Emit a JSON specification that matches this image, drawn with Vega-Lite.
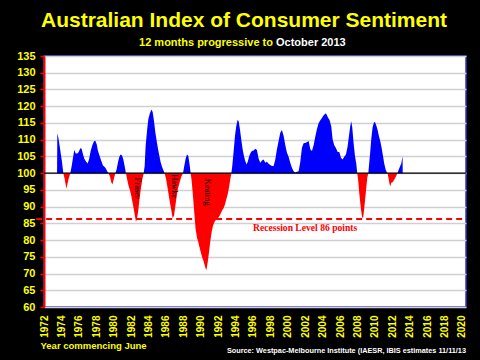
{
  "$schema": "https://vega.github.io/schema/vega-lite/v6.json",
  "width": 422,
  "height": 251,
  "autosize": {"type": "none"},
  "padding": {"left": 44, "top": 56, "right": 14, "bottom": 53},
  "background": "black",
  "title": {
    "text": "Australian Index of Consumer Sentiment",
    "color": "#ffff00",
    "fontSize": 21,
    "font": "Liberation Sans",
    "fontWeight": "bold",
    "anchor": "middle",
    "dx": -11,
    "offset": 6
  },
  "config": {
    "view": {"fill": "white", "stroke": "#3333cc", "strokeWidth": 1.5},
    "font": "Liberation Sans"
  },
  "datasets": {
    "sentiment": [
      {"year": 1973.50, "value": 100}, {"year": 1973.53, "value": 111.9}, {"year": 1973.65, "value": 110.6},
      {"year": 1973.80, "value": 108.1}, {"year": 1973.91, "value": 106.1}, {"year": 1974.07, "value": 103.3},
      {"year": 1974.22, "value": 100}, {"year": 1974.37, "value": 98.3}, {"year": 1974.49, "value": 96.6},
      {"year": 1974.56, "value": 95.3}, {"year": 1974.68, "value": 96.6}, {"year": 1974.83, "value": 98.3},
      {"year": 1975.02, "value": 100}, {"year": 1975.18, "value": 102.1}, {"year": 1975.33, "value": 104.6},
      {"year": 1975.48, "value": 106.9}, {"year": 1975.64, "value": 105.9}, {"year": 1975.83, "value": 105.9},
      {"year": 1975.98, "value": 106.3}, {"year": 1976.17, "value": 107.4}, {"year": 1976.32, "value": 107.3},
      {"year": 1976.48, "value": 105.6}, {"year": 1976.63, "value": 104.3}, {"year": 1976.82, "value": 103.5},
      {"year": 1977.01, "value": 102.9}, {"year": 1977.17, "value": 104.1}, {"year": 1977.36, "value": 106.6},
      {"year": 1977.55, "value": 108.3}, {"year": 1977.74, "value": 109.5}, {"year": 1977.89, "value": 109.7},
      {"year": 1978.05, "value": 108.6}, {"year": 1978.20, "value": 106.6}, {"year": 1978.39, "value": 105.1},
      {"year": 1978.58, "value": 103.6}, {"year": 1978.77, "value": 102.3}, {"year": 1978.97, "value": 101.8},
      {"year": 1979.12, "value": 101.3}, {"year": 1979.27, "value": 100.5}, {"year": 1979.42, "value": 100},
      {"year": 1979.58, "value": 98.9}, {"year": 1979.73, "value": 97.3}, {"year": 1979.85, "value": 96.6},
      {"year": 1980.00, "value": 98.1}, {"year": 1980.19, "value": 100}, {"year": 1980.34, "value": 101.1},
      {"year": 1980.50, "value": 103.3}, {"year": 1980.65, "value": 104.9}, {"year": 1980.80, "value": 105.6},
      {"year": 1980.96, "value": 105.3}, {"year": 1981.11, "value": 104.1}, {"year": 1981.26, "value": 102.1},
      {"year": 1981.41, "value": 100}, {"year": 1981.57, "value": 97.9}, {"year": 1981.72, "value": 96.1},
      {"year": 1981.87, "value": 94.9}, {"year": 1982.03, "value": 93.1}, {"year": 1982.18, "value": 91.1},
      {"year": 1982.33, "value": 88.9}, {"year": 1982.45, "value": 87.1}, {"year": 1982.56, "value": 85.5},
      {"year": 1982.68, "value": 86.3}, {"year": 1982.83, "value": 88.9}, {"year": 1982.98, "value": 92.6},
      {"year": 1983.14, "value": 95.6}, {"year": 1983.29, "value": 98.1}, {"year": 1983.44, "value": 100},
      {"year": 1983.56, "value": 102.1}, {"year": 1983.67, "value": 108.1}, {"year": 1983.83, "value": 112.6},
      {"year": 1983.98, "value": 116.1}, {"year": 1984.13, "value": 117.6}, {"year": 1984.32, "value": 119.0},
      {"year": 1984.48, "value": 118.3}, {"year": 1984.63, "value": 115.6}, {"year": 1984.78, "value": 112.3},
      {"year": 1984.94, "value": 109.6}, {"year": 1985.09, "value": 107.3}, {"year": 1985.24, "value": 105.3},
      {"year": 1985.39, "value": 103.3}, {"year": 1985.55, "value": 101.9}, {"year": 1985.70, "value": 100.9},
      {"year": 1985.85, "value": 100}, {"year": 1986.01, "value": 98.3}, {"year": 1986.16, "value": 96.1},
      {"year": 1986.31, "value": 93.6}, {"year": 1986.47, "value": 91.1}, {"year": 1986.62, "value": 88.9},
      {"year": 1986.77, "value": 86.6}, {"year": 1986.93, "value": 87.3}, {"year": 1987.08, "value": 90.1},
      {"year": 1987.23, "value": 93.1}, {"year": 1987.38, "value": 95.3}, {"year": 1987.58, "value": 97.3},
      {"year": 1987.77, "value": 98.9}, {"year": 1987.96, "value": 100}, {"year": 1988.11, "value": 102.1},
      {"year": 1988.26, "value": 104.3}, {"year": 1988.42, "value": 105.6}, {"year": 1988.57, "value": 105.1},
      {"year": 1988.72, "value": 102.6}, {"year": 1988.84, "value": 100}, {"year": 1988.95, "value": 97.9},
      {"year": 1989.11, "value": 93.1}, {"year": 1989.26, "value": 88.1}, {"year": 1989.41, "value": 83.2},
      {"year": 1989.57, "value": 80.7}, {"year": 1989.72, "value": 79.4}, {"year": 1989.87, "value": 77.7},
      {"year": 1990.02, "value": 76.2}, {"year": 1990.18, "value": 74.7}, {"year": 1990.33, "value": 73.7},
      {"year": 1990.48, "value": 72.2}, {"year": 1990.64, "value": 70.9}, {"year": 1990.79, "value": 73.2},
      {"year": 1990.94, "value": 76.2}, {"year": 1991.10, "value": 79.7}, {"year": 1991.25, "value": 82.4},
      {"year": 1991.40, "value": 84.2}, {"year": 1991.56, "value": 85.3}, {"year": 1991.71, "value": 85.9},
      {"year": 1991.86, "value": 86.1}, {"year": 1992.01, "value": 86.7}, {"year": 1992.17, "value": 87.3},
      {"year": 1992.32, "value": 88.1}, {"year": 1992.47, "value": 88.9}, {"year": 1992.63, "value": 89.6},
      {"year": 1992.78, "value": 90.6}, {"year": 1992.93, "value": 92.1}, {"year": 1993.09, "value": 93.6},
      {"year": 1993.24, "value": 95.6}, {"year": 1993.39, "value": 98.1}, {"year": 1993.51, "value": 100},
      {"year": 1993.62, "value": 102.1}, {"year": 1993.78, "value": 106.6}, {"year": 1993.93, "value": 111.1},
      {"year": 1994.08, "value": 114.1}, {"year": 1994.23, "value": 115.9}, {"year": 1994.35, "value": 115.6},
      {"year": 1994.50, "value": 113.1}, {"year": 1994.66, "value": 109.9}, {"year": 1994.81, "value": 107.1},
      {"year": 1994.96, "value": 105.1}, {"year": 1995.11, "value": 103.6}, {"year": 1995.27, "value": 102.6},
      {"year": 1995.42, "value": 103.6}, {"year": 1995.57, "value": 105.1}, {"year": 1995.73, "value": 106.1},
      {"year": 1995.88, "value": 106.6}, {"year": 1996.07, "value": 106.8}, {"year": 1996.26, "value": 107.3},
      {"year": 1996.45, "value": 106.9}, {"year": 1996.65, "value": 104.3}, {"year": 1996.84, "value": 103.1},
      {"year": 1997.03, "value": 103.8}, {"year": 1997.22, "value": 104.1}, {"year": 1997.41, "value": 103.1},
      {"year": 1997.60, "value": 103.4}, {"year": 1997.79, "value": 102.8}, {"year": 1997.98, "value": 102.4},
      {"year": 1998.18, "value": 102.1}, {"year": 1998.37, "value": 102.1}, {"year": 1998.56, "value": 104.1},
      {"year": 1998.75, "value": 107.1}, {"year": 1998.94, "value": 109.6}, {"year": 1999.13, "value": 112.1},
      {"year": 1999.32, "value": 112.9}, {"year": 1999.52, "value": 111.1}, {"year": 1999.71, "value": 108.3},
      {"year": 1999.90, "value": 106.1}, {"year": 2000.09, "value": 104.9}, {"year": 2000.28, "value": 103.1},
      {"year": 2000.47, "value": 101.6}, {"year": 2000.66, "value": 100.6}, {"year": 2000.86, "value": 100.2},
      {"year": 2001.05, "value": 100.4}, {"year": 2001.24, "value": 100.6}, {"year": 2001.43, "value": 103.3},
      {"year": 2001.62, "value": 107.6}, {"year": 2001.81, "value": 108.9}, {"year": 2002.08, "value": 109.1},
      {"year": 2002.39, "value": 109.6}, {"year": 2002.58, "value": 107.1}, {"year": 2002.77, "value": 106.6},
      {"year": 2002.96, "value": 108.3}, {"year": 2003.15, "value": 110.9}, {"year": 2003.34, "value": 113.1},
      {"year": 2003.53, "value": 114.9}, {"year": 2003.73, "value": 115.8}, {"year": 2003.92, "value": 116.5},
      {"year": 2004.11, "value": 117.3}, {"year": 2004.38, "value": 117.9}, {"year": 2004.61, "value": 116.6},
      {"year": 2004.80, "value": 115.8}, {"year": 2004.99, "value": 113.9}, {"year": 2005.14, "value": 110.1},
      {"year": 2005.33, "value": 108.3}, {"year": 2005.52, "value": 107.5}, {"year": 2005.72, "value": 106.3},
      {"year": 2005.91, "value": 106.3}, {"year": 2006.10, "value": 104.6}, {"year": 2006.29, "value": 104.1},
      {"year": 2006.48, "value": 104.9}, {"year": 2006.67, "value": 105.6}, {"year": 2006.86, "value": 107.9},
      {"year": 2007.02, "value": 111.1}, {"year": 2007.17, "value": 114.1}, {"year": 2007.28, "value": 115.5},
      {"year": 2007.40, "value": 113.6}, {"year": 2007.55, "value": 109.1}, {"year": 2007.71, "value": 105.1},
      {"year": 2007.86, "value": 102.9}, {"year": 2007.97, "value": 100}, {"year": 2008.09, "value": 97.6},
      {"year": 2008.20, "value": 94.1}, {"year": 2008.32, "value": 91.1}, {"year": 2008.43, "value": 88.6},
      {"year": 2008.55, "value": 86.6}, {"year": 2008.66, "value": 86.9}, {"year": 2008.78, "value": 89.6},
      {"year": 2008.89, "value": 92.6}, {"year": 2009.01, "value": 95.6}, {"year": 2009.12, "value": 98.6},
      {"year": 2009.24, "value": 100}, {"year": 2009.35, "value": 103.1}, {"year": 2009.47, "value": 106.6},
      {"year": 2009.58, "value": 110.1}, {"year": 2009.73, "value": 113.6}, {"year": 2009.89, "value": 115.1},
      {"year": 2010.00, "value": 115.3}, {"year": 2010.15, "value": 114.3}, {"year": 2010.31, "value": 112.9},
      {"year": 2010.46, "value": 111.1}, {"year": 2010.61, "value": 109.6}, {"year": 2010.77, "value": 107.6},
      {"year": 2010.92, "value": 105.3}, {"year": 2011.07, "value": 102.9}, {"year": 2011.23, "value": 101.1},
      {"year": 2011.38, "value": 100.2}, {"year": 2011.46, "value": 100}, {"year": 2011.57, "value": 98.3},
      {"year": 2011.69, "value": 96.6}, {"year": 2011.76, "value": 96.1}, {"year": 2011.88, "value": 97.1},
      {"year": 2012.03, "value": 97.3}, {"year": 2012.18, "value": 97.9}, {"year": 2012.34, "value": 98.6},
      {"year": 2012.49, "value": 99.4}, {"year": 2012.57, "value": 100}, {"year": 2012.72, "value": 100.9},
      {"year": 2012.87, "value": 101.9}, {"year": 2013.03, "value": 102.9}, {"year": 2013.14, "value": 104.6},
      {"year": 2013.18, "value": 104.8}, {"year": 2013.19, "value": 100}
    ],
    "one": [{"k": 1}]
  },
  "layer": [
    {
      "data": {"name": "sentiment"},
      "transform": [{"filter": "datum.value >= 100"}],
      "mark": {"type": "area", "color": "#0000ff"},
      "encoding": {
        "x": {
          "field": "year",
          "type": "quantitative",
          "scale": {"domain": [1972, 2020.46], "nice": false, "zero": false},
          "axis": {
            "values": [1972, 1974, 1976, 1978, 1980, 1982, 1984, 1986, 1988, 1990, 1992, 1994, 1996, 1998, 2000, 2002, 2004, 2006, 2008, 2010, 2012, 2014, 2016, 2018, 2020],
            "tickCount": 100,
            "format": "d",
            "labelAngle": -90,
            "labelAlign": "right",
            "labelBaseline": "middle",
            "labelColor": "#ffff00",
            "labelFont": "Liberation Sans",
            "labelFontWeight": "bold",
            "labelFontSize": 10,
            "labelPadding": 8,
            "labelFlush": false,
            "labelOverlap": false,
            "labelBound": false,
            "ticks": false,
            "domain": false,
            "grid": false,
            "title": "Year commencing June",
            "titleColor": "#ffff00",
            "titleFont": "Liberation Sans",
            "titleFontWeight": "bold",
            "titleFontSize": 9.5,
            "titleAnchor": "start",
            "titleAlign": "left",
            "titleBaseline": "alphabetic",
            "titleX": -4,
            "titleY": 41
          }
        },
        "y": {
          "field": "value",
          "type": "quantitative",
          "scale": {"domain": [60, 135], "nice": false, "zero": false},
          "axis": {
            "values": [60, 65, 70, 75, 80, 85, 90, 95, 100, 105, 110, 115, 120, 125, 130, 135],
            "tickCount": 100,
            "labelColor": "#ffff00",
            "labelFont": "Liberation Sans",
            "labelFontWeight": "bold",
            "labelFontSize": 11,
            "labelPadding": 5,
            "labelOverlap": false,
            "labelFlush": false,
            "tickColor": "#ff0000",
            "tickSize": 4,
            "tickWidth": 1.5,
            "domainColor": "#ff0000",
            "domainWidth": 2,
            "grid": true,
            "gridColor": "#d0d0d0",
            "gridWidth": 1.5,
            "title": null
          }
        },
        "y2": {"datum": 100}
      }
    },
    {
      "data": {"name": "sentiment"},
      "transform": [{"filter": "datum.value <= 100"}],
      "mark": {"type": "area", "color": "#ff0000"},
      "encoding": {
        "x": {"field": "year", "type": "quantitative"},
        "y": {"field": "value", "type": "quantitative"},
        "y2": {"datum": 100}
      }
    },
    {
      "data": {"name": "one"},
      "mark": {"type": "rule", "color": "black", "strokeWidth": 1.2},
      "encoding": {"y": {"datum": 100}}
    },
    {
      "data": {"name": "one"},
      "mark": {"type": "rule", "color": "#ff0000", "strokeWidth": 2, "strokeDash": [6, 4]},
      "encoding": {"x": {"datum": 1971.1}, "x2": {"datum": 2020.46}, "y": {"datum": 86.3}}
    },
    {
      "data": {"name": "one"},
      "mark": {"type": "text", "text": "Recession Level  86 points", "color": "#ff0000", "font": "Liberation Serif", "fontWeight": "bold", "fontSize": 9.6, "align": "left", "baseline": "middle"},
      "encoding": {"x": {"datum": 1996.0}, "y": {"datum": 83.6}}
    },
    {
      "data": {
        "values": [
          {"label": "Fraser", "year": 1982.8, "value": 95.5},
          {"label": "Hawke", "year": 1987.04, "value": 96.1},
          {"label": "Keating", "year": 1990.83, "value": 94.3}
        ]
      },
      "mark": {"type": "text", "color": "black", "font": "Liberation Serif", "fontSize": 8.5, "angle": 90, "align": "center", "baseline": "middle"},
      "encoding": {
        "x": {"field": "year", "type": "quantitative"},
        "y": {"field": "value", "type": "quantitative"},
        "text": {"field": "label"}
      }
    },
    {
      "data": {"name": "one"},
      "mark": {"type": "text", "text": "12 months progressive to", "color": "#ffff00", "font": "Liberation Sans", "fontWeight": "bold", "fontSize": 11, "align": "right", "baseline": "alphabetic"},
      "encoding": {"x": {"datum": 1998.29}, "y": {"datum": 138.0}}
    },
    {
      "data": {"name": "one"},
      "mark": {"type": "text", "text": "October 2013", "color": "#ffffff", "font": "Liberation Sans", "fontWeight": "bold", "fontSize": 11, "align": "left", "baseline": "alphabetic"},
      "encoding": {"x": {"datum": 1998.64}, "y": {"datum": 138.0}}
    },
    {
      "data": {"name": "one"},
      "mark": {"type": "text", "text": "Source: Westpac-Melbourne Institute (IAESR, IBIS estimates 11/11/13", "color": "#ffffff", "font": "Liberation Sans", "fontWeight": "bold", "fontSize": 7.3, "align": "right", "baseline": "alphabetic"},
      "encoding": {"x": {"datum": 2020.46}, "y": {"datum": 46.2}}
    }
  ]
}
